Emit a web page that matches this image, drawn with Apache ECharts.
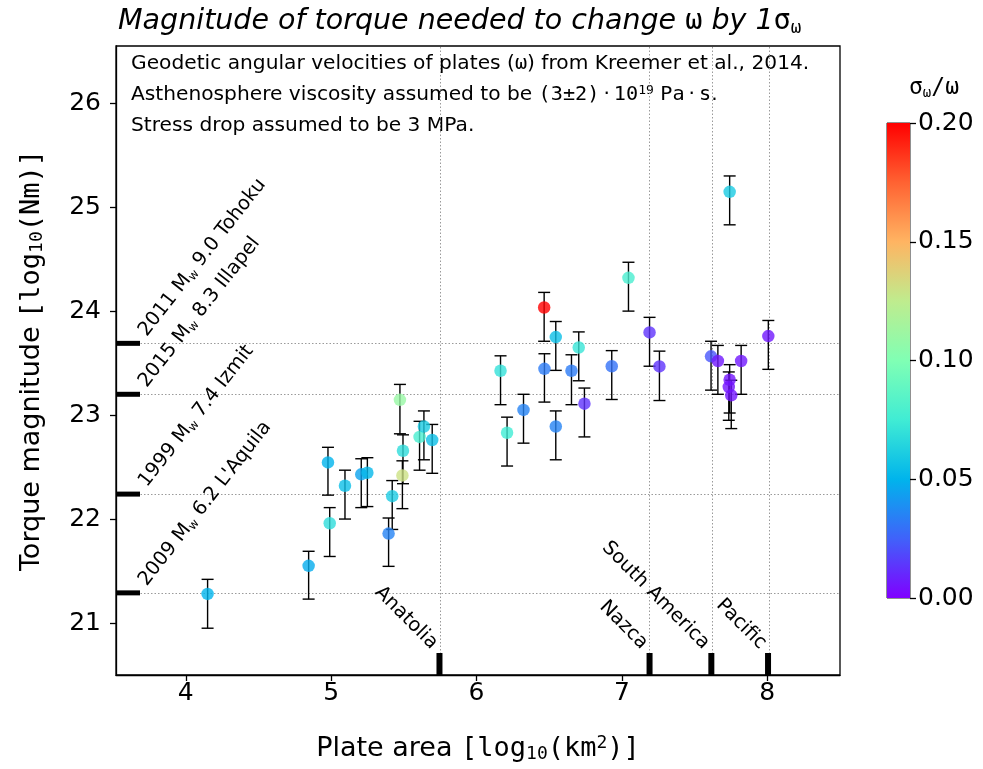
<!DOCTYPE html>
<html>
<head>
<meta charset="utf-8">
<script src="https://cdn.jsdelivr.net/npm/echarts@6/dist/echarts.min.js"></script>
<style>
  html, body { margin: 0; padding: 0; background: #fff; }
  #chart { width: 983px; height: 769px; }
</style>
</head>
<body>
<div id="chart"></div>
<script>
// plate area [log10 km^2], torque [log10 Nm] with error bar ends, and sigma_w / w
var plateArea = [4.15, 4.845, 4.978, 4.99, 5.095, 5.207, 5.249, 5.395, 5.42, 5.473, 5.494, 5.49, 5.608, 5.638, 5.695,
  6.165, 6.21, 6.323, 6.465, 6.467, 6.545, 6.545, 6.653, 6.703, 6.742, 6.93, 7.045, 7.19, 7.258,
  7.741, 8.007, 7.613, 7.66, 7.82, 7.741, 7.735, 7.752];
var torque = [21.28, 21.55, 22.545, 21.96, 22.32, 22.43, 22.445, 21.86, 22.22, 23.147, 22.657, 22.42, 22.79, 22.89, 22.76,
  23.426, 22.83, 23.05, 24.035, 23.445, 23.75, 22.89, 23.426, 23.65, 23.11, 23.47, 24.32, 23.795, 23.468,
  25.147, 23.76, 23.565, 23.52, 23.52, 23.34, 23.27, 23.19];
var torqueLow = [20.95, 21.23, 22.23, 21.64, 22.0, 22.11, 22.12, 21.545, 21.9, 22.82, 22.34, 22.1, 22.47, 22.57, 22.44,
  23.1, 22.51, 22.73, 23.71, 23.125, 23.43, 22.57, 23.1, 23.33, 22.79, 23.15, 24.0, 23.47, 23.14,
  24.83, 23.44, 23.24, 23.2, 23.2, 23.02, 22.95, 22.87];
var torqueHigh = [21.42, 21.69, 22.69, 22.11, 22.47, 22.58, 22.59, 22.01, 22.37, 23.295, 22.81, 22.56, 22.94, 23.04, 22.91,
  23.57, 22.98, 23.2, 24.18, 23.59, 23.9, 23.04, 23.58, 23.8, 23.26, 23.62, 24.47, 23.94, 23.615,
  25.3, 23.91, 23.71, 23.67, 23.67, 23.485, 23.415, 23.335];
var sigmaRatio = [0.05, 0.048, 0.05, 0.068, 0.055, 0.045, 0.052, 0.035, 0.06, 0.11, 0.068, 0.13, 0.078, 0.06, 0.055,
  0.07, 0.075, 0.035, 0.2, 0.033, 0.055, 0.035, 0.033, 0.072, 0.013, 0.03, 0.078, 0.013, 0.013,
  0.06, 0.006, 0.022, 0.006, 0.006, 0.005, 0.005, 0.005];

// reference earthquakes (seismic moment) and named plates
var quakeYear = ['2011', '2015', '1999', '2009'];
var quakeMw = ['9.0', '8.3', '7.4', '6.2'];
var quakePlace = ['Tohoku', 'Illapel', 'Izmit', "L'Aquila"];
var quakeTorque = [23.69, 23.2, 22.24, 21.29];
var plateNames = ['Anatolia', 'Nazca', 'South America', 'Pacific'];
var plateMark = [5.745, 7.19, 7.615, 8.005];

var xTicks = [4, 5, 6, 7, 8];
var yTicks = [21, 22, 23, 24, 25, 26];
var cbarTicks = [0, 0.05, 0.1, 0.15, 0.2];

var xMin = 3.52, xMax = 8.5, yMin = 20.5, yMax = 26.55;

var rainbow = ['#8000ff', '#4062fa', '#00b4ec', '#40ecd4', '#80ffb4', '#bfec8e', '#ffb462', '#ff6232', '#ff0000'];

var SANS = 'DejaVu Sans';
var MONO = 'DejaVu Sans Mono';

var chart = echarts.init(document.getElementById('chart'));

var errData = plateArea.map(function (x, i) { return [x, torqueLow[i], torqueHigh[i]]; });
var ptData = plateArea.map(function (x, i) { return [x, torque[i], sigmaRatio[i]]; });

var quakeRich = {
  n: { fontFamily: SANS, fontSize: 19.5, color: '#000' },
  w: { fontFamily: SANS, fontSize: 12, color: '#000', verticalAlign: 'bottom', padding: [9, 0, 0, 0] }
};

var option = {
  animation: false,
  title: {
    text: '{i|Magnitude of torque needed to change }{m|ω}{i| by 1}{m|σ}{s|ω}',
    left: 113, top: 2,
    textStyle: {
      rich: {
        i: { fontFamily: SANS, fontStyle: 'italic', fontWeight: 'normal', fontSize: 28.5, color: '#000' },
        m: { fontFamily: MONO, fontWeight: 'normal', fontSize: 28.5, color: '#000' },
        s: { fontFamily: MONO, fontWeight: 'normal', fontSize: 17.5, color: '#000', verticalAlign: 'bottom', padding: [12, 0, 0, 0] }
      }
    }
  },
  grid: [
    { left: 116, right: 143, top: 46, bottom: 94, show: true, borderColor: '#000', borderWidth: 1.3, outerBoundsMode: 'none' },
    { left: 887, top: 123, width: 23, height: 475, show: true, borderColor: '#222', borderWidth: 1, outerBoundsMode: 'none' }
  ],
  visualMap: {
    show: false, seriesIndex: 1, dimension: 2, min: 0, max: 0.2,
    inRange: { color: rainbow }
  },
  xAxis: [{
    type: 'value', gridIndex: 0, min: xMin, max: xMax,
    axisLine: { show: true, onZero: false, lineStyle: { color: '#000', width: 1.3 } },
    axisTick: { show: true, length: 6, customValues: xTicks, lineStyle: { color: '#000', width: 1.3 } },
    axisLabel: { customValues: xTicks, fontFamily: SANS, fontSize: 25, color: '#000', margin: 6 },
    splitLine: { show: false },
    name: '{n|Plate area }{m|[log}{s|10}{m|(km}{p|2}{m|)]}',
    nameLocation: 'middle', nameGap: 59,
    nameTextStyle: {
      rich: {
        n: { fontFamily: SANS, fontSize: 27, color: '#000' },
        m: { fontFamily: MONO, fontSize: 27, color: '#000' },
        s: { fontFamily: MONO, fontSize: 18, color: '#000', verticalAlign: 'bottom', padding: [11, 0, 0, 0] },
        p: { fontFamily: MONO, fontSize: 18, color: '#000', verticalAlign: 'top', padding: [0, 0, 11, 0] }
      }
    }
  }, {
    type: 'category', gridIndex: 1, data: [''], show: false
  }],
  yAxis: [{
    type: 'value', gridIndex: 0, min: yMin, max: yMax,
    axisLine: { show: true, onZero: false, lineStyle: { color: '#000', width: 1.3 } },
    axisTick: { show: true, length: 6, customValues: yTicks, lineStyle: { color: '#000', width: 1.3 } },
    axisLabel: { customValues: yTicks, fontFamily: SANS, fontSize: 25, color: '#000', margin: 15 },
    splitLine: { show: false },
    name: '{n|Torque magnitude }{m|[log}{s|10}{m|(Nm)]}',
    nameLocation: 'middle', nameGap: 70,
    nameTextStyle: {
      rich: {
        n: { fontFamily: SANS, fontSize: 27, color: '#000' },
        m: { fontFamily: MONO, fontSize: 27, color: '#000' },
        s: { fontFamily: MONO, fontSize: 18, color: '#000', verticalAlign: 'bottom', padding: [11, 0, 0, 0] }
      }
    }
  }, {
    type: 'value', gridIndex: 1, position: 'right',
    min: cbarTicks[0], max: cbarTicks[cbarTicks.length - 1], interval: cbarTicks[1] - cbarTicks[0],
    axisLine: { show: false },
    axisTick: { show: true, length: 6, lineStyle: { color: '#000', width: 1.3 } },
    axisLabel: { fontFamily: SANS, fontSize: 25, color: '#000', margin: 8, formatter: function (v) { return v.toFixed(2); } },
    splitLine: { show: false }
  }],
  graphic: [
    { type: 'text', x: 934, y: 88, style: { text: '{m|σ}{s|ω}{m|/ω}', align: 'center', verticalAlign: 'middle',
      rich: {
        m: { fontFamily: MONO, fontSize: 23, color: '#000' },
        s: { fontFamily: MONO, fontSize: 14, color: '#000', verticalAlign: 'bottom', padding: [10, 0, 0, 0] }
      } } },
    { type: 'text', left: 131, top: 54, style: { text: 'Geodetic angular velocities of plates ({m|ω}) from Kreemer et al., 2014.',
      fontFamily: SANS, fontSize: 20.2, fill: '#000',
      rich: { m: { fontFamily: MONO, fontSize: 20.2, color: '#000' } } } },
    { type: 'text', left: 131, top: 84, style: { text: 'Asthenosphere viscosity assumed to be {m|(3±2)}{d|\u2009·\u2009}{m|10}{p|19}{d| }{m|Pa}{d|\u2009·\u2009}{m|s}.',
      fontFamily: SANS, fontSize: 20.2, fill: '#000',
      rich: {
        m: { fontFamily: MONO, fontSize: 20.2, color: '#000' },
        d: { fontFamily: SANS, fontSize: 20.2, color: '#000' },
        p: { fontFamily: MONO, fontSize: 13, color: '#000', verticalAlign: 'top', padding: [0, 0, 8, 0] }
      } } },
    { type: 'text', left: 131, top: 116, style: { text: 'Stress drop assumed to be 3 MPa.',
      fontFamily: SANS, fontSize: 20.2, fill: '#000' } }
  ],
  series: [
    {
      // error bars, with dotted reference lines beneath everything
      type: 'custom', xAxisIndex: 0, yAxisIndex: 0, z: 2,
      data: errData,
      encode: { x: 0, y: [1, 2] },
      renderItem: function (params, api) {
        var x = api.value(0);
        var lo = api.coord([x, api.value(1)]);
        var hi = api.coord([x, api.value(2)]);
        var cw = 6;
        function st() { return { stroke: '#000', lineWidth: 1.4 }; }
        return {
          type: 'group', children: [
            { type: 'line', shape: { x1: lo[0], y1: lo[1], x2: hi[0], y2: hi[1] }, style: st() },
            { type: 'line', shape: { x1: lo[0] - cw, y1: lo[1], x2: lo[0] + cw, y2: lo[1] }, style: st() },
            { type: 'line', shape: { x1: hi[0] - cw, y1: hi[1], x2: hi[0] + cw, y2: hi[1] }, style: st() }
          ]
        };
      },
      markLine: {
        z: 1, silent: true, symbol: ['none', 'none'], label: { show: false },
        lineStyle: { type: [1.5, 2], color: '#9a9a9a', width: 1 },
        data: quakeTorque.map(function (v) { return { yAxis: v }; })
          .concat(plateMark.map(function (v) { return { xAxis: v }; }))
      }
    },
    {
      type: 'scatter', xAxisIndex: 0, yAxisIndex: 0, z: 3,
      symbolSize: 12.5,
      data: ptData
    },
    {
      // earthquake moments: thick ticks on the left spine with labels
      type: 'custom', xAxisIndex: 0, yAxisIndex: 0, z: 10, silent: true,
      data: quakeTorque.map(function (v, i) { return [xMin, v, i]; }),
      renderItem: function (params, api) {
        var cs = params.coordSys;
        var p = api.coord([api.value(0), api.value(1)]);
        var i = api.value(2);
        return {
          type: 'group', children: [
            { type: 'rect', shape: { x: cs.x, y: p[1] - 2.5, width: 24, height: 5 }, style: { fill: '#000' } },
            { type: 'text', x: cs.x + 35, y: p[1] - 3, rotation: 52 * Math.PI / 180,
              style: { text: '{n|' + quakeYear[i] + ' M}{w|w}{n| ' + quakeMw[i] + ' ' + quakePlace[i] + '}',
                align: 'left', verticalAlign: 'bottom', rich: quakeRich } }
          ]
        };
      }
    },
    {
      // named plates: thick ticks on the bottom spine with labels
      type: 'custom', xAxisIndex: 0, yAxisIndex: 0, z: 10, silent: true,
      data: plateMark.map(function (v, i) { return [v, yMin, i]; }),
      renderItem: function (params, api) {
        var cs = params.coordSys;
        var p = api.coord([api.value(0), api.value(1)]);
        var i = api.value(2);
        var bottom = cs.y + cs.height;
        return {
          type: 'group', children: [
            { type: 'rect', shape: { x: p[0] - 3, y: bottom - 22, width: 6, height: 22 }, style: { fill: '#000' } },
            { type: 'text', x: p[0] - 5, y: bottom - 29, rotation: -45 * Math.PI / 180,
              style: { text: plateNames[i], fontFamily: SANS, fontSize: 19.5, fill: '#000',
                align: 'right', verticalAlign: 'middle' } }
          ]
        };
      }
    },
    {
      // colour bar
      type: 'bar', xAxisIndex: 1, yAxisIndex: 1, barWidth: '100%', silent: true,
      data: [cbarTicks[cbarTicks.length - 1]],
      itemStyle: {
        color: new echarts.graphic.LinearGradient(0, 1, 0, 0, rainbow.map(function (c, k) {
          return { offset: k / (rainbow.length - 1), color: c };
        }))
      }
    }
  ]
};

chart.setOption(option);
</script>
</body>
</html>
